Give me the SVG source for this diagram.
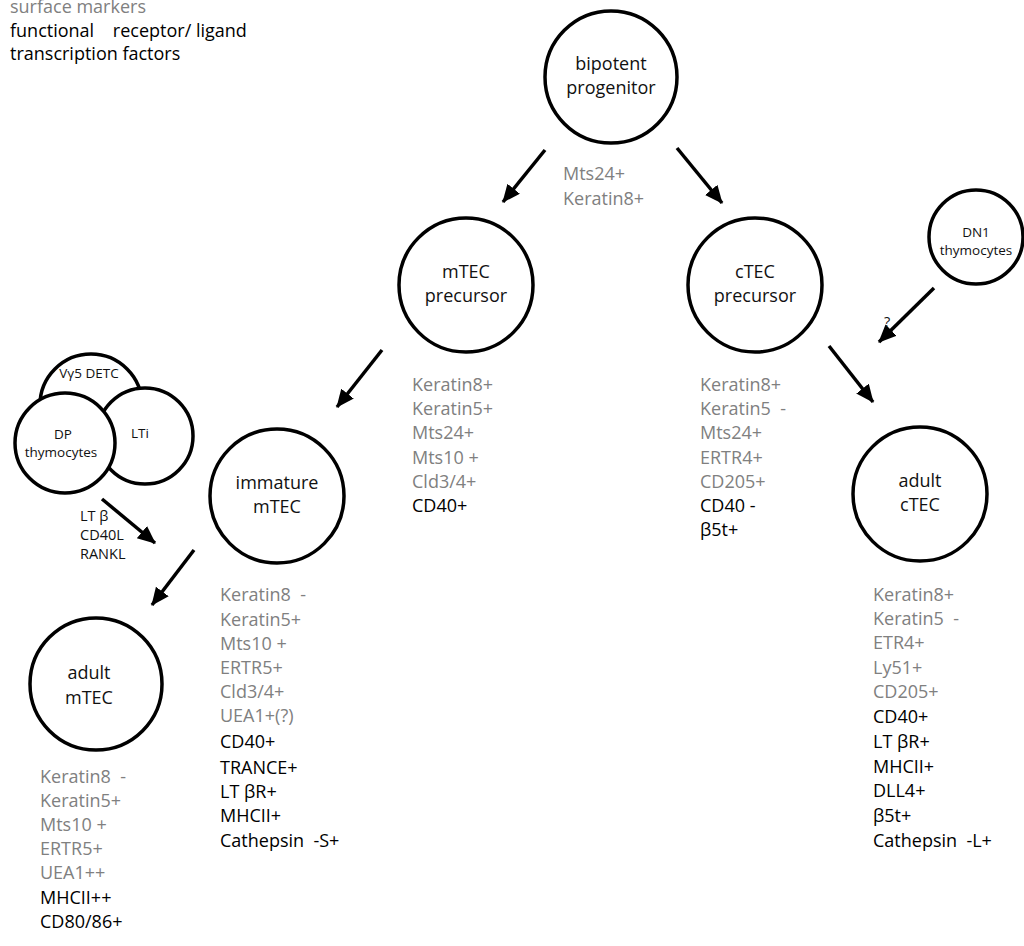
<svg xmlns="http://www.w3.org/2000/svg" width="1024" height="946" viewBox="0 0 1024 946">
<style>
text{font-family:"Open Sans","Noto Sans",sans-serif;}
.node{fill:#fff;stroke:#000;stroke-width:3.5;}
.nt{font-size:18px;fill:#111;text-anchor:middle;}
.st{font-size:13.5px;fill:#111;text-anchor:middle;}
.sm{font-size:14.5px;fill:#111;}
.g{font-size:18px;fill:#808080;}
.b{font-size:18px;fill:#000;}
.lg{font-size:18px;}
.conn line{stroke:#000;stroke-width:3.5;marker-end:url(#ah);}
</style>
<defs>
<marker id="ah" markerUnits="userSpaceOnUse" markerWidth="20" markerHeight="18" refX="17" refY="8" orient="auto" viewBox="0 0 20 18">
<path d="M0,0 L18,8 L0,16 z" fill="#000"/>
</marker>
</defs>
<rect width="1024" height="946" fill="#fff"/>
<g id="legend">
<text x="10" y="13" class="g lg">surface markers</text>
<text x="10" y="37" class="b lg" xml:space="preserve">functional    receptor/ ligand</text>
<text x="10" y="60" class="b lg">transcription factors</text>
</g>
<g class="conn" id="connectors">
<line x1="545" y1="150" x2="503" y2="202"/>
<line x1="677" y1="148" x2="722" y2="203"/>
<line x1="382" y1="350" x2="337" y2="407"/>
<line x1="829" y1="346" x2="873" y2="402"/>
<line x1="934" y1="288" x2="879" y2="342"/>
<line x1="102" y1="499" x2="155" y2="543"/>
<line x1="194" y1="550" x2="152" y2="605"/>
</g>
<g id="bipotent">
<circle class="node" cx="611" cy="77" r="66"/>
<text x="611" y="70" class="nt">bipotent</text>
<text x="611" y="94" class="nt">progenitor</text>
<text x="563" y="180" class="g">Mts24+</text>
<text x="563" y="205" class="g">Keratin8+</text>
</g>
<g id="mtec-precursor">
<circle class="node" cx="466" cy="285" r="67"/>
<text x="466" y="278" class="nt">mTEC</text>
<text x="466" y="302" class="nt">precursor</text>
<text x="412" y="391" class="g">Keratin8+</text>
<text x="412" y="415" class="g">Keratin5+</text>
<text x="412" y="439" class="g">Mts24+</text>
<text x="412" y="464" class="g">Mts10 +</text>
<text x="412" y="488" class="g">Cld3/4+</text>
<text x="412" y="512" class="b">CD40+</text>
</g>
<g id="ctec-precursor">
<circle class="node" cx="755" cy="285" r="67"/>
<text x="755" y="278" class="nt">cTEC</text>
<text x="755" y="302" class="nt">precursor</text>
<text x="700" y="391" class="g">Keratin8+</text>
<text x="700" y="415" class="g" xml:space="preserve">Keratin5  -</text>
<text x="700" y="439" class="g">Mts24+</text>
<text x="700" y="464" class="g">ERTR4+</text>
<text x="700" y="488" class="g">CD205+</text>
<text x="700" y="512" class="b">CD40 -</text>
<text x="700" y="536" class="b">β5t+</text>
</g>
<g id="dn1">
<circle class="node" cx="976" cy="237" r="47"/>
<text x="976" y="237" class="st">DN1</text>
<text x="976" y="255" class="st">thymocytes</text>
<text x="884" y="327" class="sm">?</text>
</g>
<g id="adult-ctec">
<circle class="node" cx="920" cy="494" r="67"/>
<text x="920" y="487" class="nt">adult</text>
<text x="920" y="511" class="nt">cTEC</text>
<text x="873" y="601" class="g">Keratin8+</text>
<text x="873" y="625" class="g" xml:space="preserve">Keratin5  -</text>
<text x="873" y="649" class="g">ETR4+</text>
<text x="873" y="674" class="g">Ly51+</text>
<text x="873" y="698" class="g">CD205+</text>
<text x="873" y="723" class="b">CD40+</text>
<text x="873" y="748" class="b">LT βR+</text>
<text x="873" y="773" class="b">MHCII+</text>
<text x="873" y="797" class="b">DLL4+</text>
<text x="873" y="822" class="b">β5t+</text>
<text x="873" y="847" class="b" xml:space="preserve">Cathepsin  -L+</text>
</g>
<g id="immature-mtec">
<circle class="node" cx="277" cy="496" r="67"/>
<text x="277" y="489" class="nt">immature</text>
<text x="277" y="513" class="nt">mTEC</text>
<text x="220" y="601" class="g" xml:space="preserve">Keratin8  -</text>
<text x="220" y="626" class="g">Keratin5+</text>
<text x="220" y="650" class="g">Mts10 +</text>
<text x="220" y="674" class="g">ERTR5+</text>
<text x="220" y="698" class="g">Cld3/4+</text>
<text x="220" y="722" class="g">UEA1+(?)</text>
<text x="220" y="748" class="b">CD40+</text>
<text x="220" y="774" class="b">TRANCE+</text>
<text x="220" y="798" class="b">LT βR+</text>
<text x="220" y="822" class="b">MHCII+</text>
<text x="220" y="847" class="b" xml:space="preserve">Cathepsin  -S+</text>
</g>
<g id="vg5-detc">
<circle class="node" cx="91" cy="405" r="51"/>
<text x="89" y="378" class="st">Vγ5 DETC</text>
</g>
<g id="lti">
<circle class="node" cx="145" cy="436" r="48"/>
<text x="140" y="438" class="st">LTi</text>
</g>
<g id="dp-thymocytes">
<circle class="node" cx="65" cy="443" r="50"/>
<text x="63" y="439" class="st">DP</text>
<text x="61" y="457" class="st">thymocytes</text>
<text x="80" y="521" class="sm">LT β</text>
<text x="80" y="540" class="sm">CD40L</text>
<text x="80" y="559" class="sm">RANKL</text>
</g>
<g id="adult-mtec">
<circle class="node" cx="96" cy="684" r="66"/>
<text x="89" y="679" class="nt">adult</text>
<text x="89" y="704" class="nt">mTEC</text>
<text x="40" y="783" class="g" xml:space="preserve">Keratin8  -</text>
<text x="40" y="807" class="g">Keratin5+</text>
<text x="40" y="831" class="g">Mts10 +</text>
<text x="40" y="855" class="g">ERTR5+</text>
<text x="40" y="879" class="g">UEA1++</text>
<text x="40" y="904" class="b">MHCII++</text>
<text x="40" y="928" class="b">CD80/86+</text>
</g>
</svg>
